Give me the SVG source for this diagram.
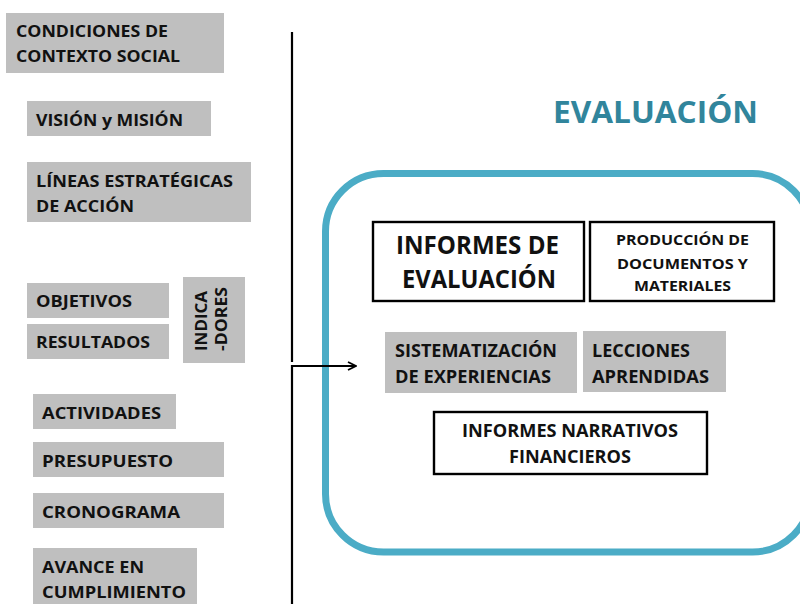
<svg xmlns="http://www.w3.org/2000/svg" width="800" height="604" viewBox="0 0 800 604">
<style>
.g{fill:#BFBFBF;stroke:none}
.w{fill:#fff;stroke:#000;stroke-width:2.4}
text{font-family:"Open Sans",Lato,"Liberation Sans",sans-serif;font-weight:bold;fill:#111}
.l{font-size:16.5px}
.m{font-size:18px}
.s{font-size:14.5px}
.b{font-size:24.5px}
.c{stroke:#000;stroke-width:2.2;fill:none}
</style>
<defs>
<marker id="arr" viewBox="0 0 10 10" refX="9" refY="5" markerWidth="10" markerHeight="10" markerUnits="userSpaceOnUse" orient="auto">
<path d="M1,1 L9,5 L1,9" fill="none" stroke="#000" stroke-width="1.9"/>
</marker>
</defs>
<rect width="800" height="604" fill="#fff"/>

<g id="n-condiciones"><rect class="g" x="6" y="13" width="218" height="60"/>
<text class="l" x="16" y="37" textLength="152" lengthAdjust="spacingAndGlyphs">CONDICIONES DE</text>
<text class="l" x="16" y="62" textLength="164" lengthAdjust="spacingAndGlyphs">CONTEXTO SOCIAL</text></g>

<g id="n-vision"><rect class="g" x="27" y="101" width="184" height="35"/>
<text class="l" x="36" y="126" textLength="147" lengthAdjust="spacingAndGlyphs">VISIÓN y MISIÓN</text></g>

<g id="n-lineas"><rect class="g" x="27" y="162" width="224" height="60"/>
<text class="l" x="36" y="187" textLength="197" lengthAdjust="spacingAndGlyphs">LÍNEAS ESTRATÉGICAS</text>
<text class="l" x="36" y="212" textLength="98" lengthAdjust="spacingAndGlyphs">DE ACCIÓN</text></g>

<g id="n-objetivos"><rect class="g" x="27" y="283" width="142" height="35"/>
<text class="l" x="36" y="307" textLength="96" lengthAdjust="spacingAndGlyphs">OBJETIVOS</text></g>

<g id="n-resultados"><rect class="g" x="27" y="324" width="142" height="35"/>
<text class="l" x="36" y="348" textLength="114" lengthAdjust="spacingAndGlyphs">RESULTADOS</text></g>

<g id="n-indicadores"><rect class="g" x="183" y="277" width="62" height="86"/>
<text class="l" transform="translate(207,321) rotate(-90)" text-anchor="middle" textLength="60" lengthAdjust="spacingAndGlyphs">INDICA</text>
<text class="l" transform="translate(227,319) rotate(-90)" text-anchor="middle" textLength="64" lengthAdjust="spacingAndGlyphs">-DORES</text></g>

<g id="n-actividades"><rect class="g" x="33" y="394" width="143" height="35"/>
<text class="l" x="42" y="419" textLength="119" lengthAdjust="spacingAndGlyphs">ACTIVIDADES</text></g>

<g id="n-presupuesto"><rect class="g" x="33" y="442" width="191" height="35"/>
<text class="l" x="42" y="467" textLength="131" lengthAdjust="spacingAndGlyphs">PRESUPUESTO</text></g>

<g id="n-cronograma"><rect class="g" x="33" y="493" width="191" height="35"/>
<text class="l" x="42" y="518" textLength="138" lengthAdjust="spacingAndGlyphs">CRONOGRAMA</text></g>

<g id="n-avance"><rect class="g" x="33" y="548" width="164" height="60"/>
<text class="l" x="42" y="573" textLength="102" lengthAdjust="spacingAndGlyphs">AVANCE EN</text>
<text class="l" x="42" y="598" textLength="144" lengthAdjust="spacingAndGlyphs">CUMPLIMIENTO</text></g>

<g id="n-title"><text x="553" y="123" font-size="29.5" textLength="205" lengthAdjust="spacingAndGlyphs" style="fill:#31859C">EVALUACIÓN</text></g>

<g id="n-evaluacion-frame"><rect x="325.5" y="173.5" width="485" height="378.5" rx="58" ry="58" fill="none" stroke="#4BACC6" stroke-width="7"/></g>

<g id="n-informes-eval"><rect class="w" x="373" y="222" width="211" height="79"/>
<text class="b" x="396" y="254" textLength="163" lengthAdjust="spacingAndGlyphs">INFORMES DE</text>
<text class="b" x="402" y="288" textLength="154" lengthAdjust="spacingAndGlyphs">EVALUACIÓN</text></g>

<g id="n-produccion"><rect class="w" x="590" y="222" width="184" height="79"/>
<text class="s" x="616" y="245" textLength="133" lengthAdjust="spacingAndGlyphs">PRODUCCIÓN DE</text>
<text class="s" x="617" y="269" textLength="131" lengthAdjust="spacingAndGlyphs">DOCUMENTOS Y</text>
<text class="s" x="634" y="291" textLength="97" lengthAdjust="spacingAndGlyphs">MATERIALES</text></g>

<g id="n-sistematizacion"><rect class="g" x="385" y="332" width="192" height="61"/>
<text class="m" x="395" y="357" textLength="162" lengthAdjust="spacingAndGlyphs">SISTEMATIZACIÓN</text>
<text class="m" x="395" y="383" textLength="156" lengthAdjust="spacingAndGlyphs">DE EXPERIENCIAS</text></g>

<g id="n-lecciones"><rect class="g" x="583" y="331" width="143" height="61"/>
<text class="m" x="592" y="357" textLength="98" lengthAdjust="spacingAndGlyphs">LECCIONES</text>
<text class="m" x="592" y="383" textLength="117" lengthAdjust="spacingAndGlyphs">APRENDIDAS</text></g>

<g id="n-narrativos"><rect class="w" x="434" y="412" width="273" height="62"/>
<text class="m" x="462" y="437" textLength="216" lengthAdjust="spacingAndGlyphs">INFORMES NARRATIVOS</text>
<text class="m" x="509" y="463" textLength="122" lengthAdjust="spacingAndGlyphs">FINANCIEROS</text></g>

<g id="connectors">
<line class="c" x1="292" y1="32" x2="292" y2="362"/>
<path class="c" d="M292,604 L292,366 L356,366" marker-end="url(#arr)"/>
</g>
</svg>
